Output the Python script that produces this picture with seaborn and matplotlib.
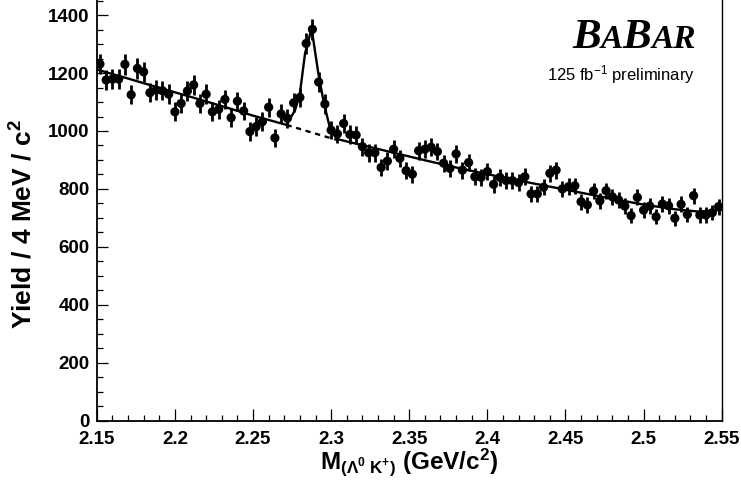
import numpy as np
import pandas as pd
import matplotlib
matplotlib.use("Agg")
import matplotlib.pyplot as plt
import seaborn as sns
from matplotlib.ticker import FixedLocator, MultipleLocator

# ---------------- data ----------------
bin_low = 2.15
bin_width = 0.004
yields = [1231, 1176, 1179, 1179, 1230, 1125, 1216, 1204, 1132, 1141,
          1139, 1127, 1066, 1095, 1138, 1159, 1095, 1127, 1066, 1075,
          1109, 1046, 1103, 1069, 998, 1015, 1032, 1082, 976, 1059,
          1044, 1097, 1116, 1302, 1351, 1169, 1093, 1003, 990, 1026,
          988, 986, 946, 925, 925, 874, 896, 937, 906, 863,
          851, 932, 937, 944, 929, 889, 871, 921, 865, 891,
          842, 840, 860, 816, 840, 829, 829, 822, 842, 783,
          783, 806, 854, 865, 800, 808, 811, 756, 745, 793,
          759, 794, 773, 762, 741, 708, 771, 727, 741, 704,
          748, 742, 699, 747, 712, 777, 710, 710, 718, 739]

# total fit curve (signal + background)
fit_mass = [2.15, 2.17, 2.19, 2.21, 2.23, 2.25, 2.2715, 2.2769, 2.280,
            2.2833, 2.2875, 2.2918, 2.2954, 2.2993, 2.304, 2.32, 2.34,
            2.36, 2.38, 2.40, 2.42, 2.44, 2.46, 2.48, 2.50, 2.52, 2.535, 2.55]
fit_yield = [1212, 1181, 1149, 1118, 1086, 1053, 1021, 1072, 1130,
             1268, 1354, 1199, 1095, 1009, 972, 951, 925,
             899, 874, 851, 829, 808, 787, 766, 746, 730, 722, 728]

# background only under the peak (dashed)
bkg_mass = [2.2715, 2.2855, 2.2993, 2.304]
bkg_yield = [1021, 998, 976, 969]

xticks = [2.15, 2.2, 2.25, 2.3, 2.35, 2.4, 2.45, 2.5, 2.55]
xtick_labels = ["2.15", "2.2", "2.25", "2.3", "2.35", "2.4", "2.45", "2.5", "2.55"]
yticks = [0, 200, 400, 600, 800, 1000, 1200, 1400]
ytick_labels = ["0", "200", "400", "600", "800", "1000", "1200", "1400"]

mass = bin_low + bin_width * (np.arange(len(yields)) + 0.5)
errors = np.sqrt(np.array(yields, dtype=float))

# ---------------- style ----------------
sns.set_theme(style="white")
plt.rcParams.update({
    "font.family": ["Liberation Sans", "DejaVu Sans"],
    "mathtext.fontset": "custom",
    "mathtext.rm": "Liberation Sans",
    "mathtext.bf": "Liberation Sans:bold",
    "mathtext.it": "Liberation Sans:italic",
    "axes.edgecolor": "black",
    "text.color": "black",
    "axes.labelcolor": "black",
    "xtick.color": "black",
    "ytick.color": "black",
})

W, H = 741, 488
fig = plt.figure(figsize=(W / 100, H / 100), dpi=100)
fig.patch.set_facecolor("white")
ax = fig.add_axes([96.8 / W, 1 - 420.8 / H, (721.7 - 96.8) / W, 420.8 / H])
ax.set_facecolor("white")

df = pd.DataFrame({"mass": mass, "yield": yields, "err": errors})
ax.errorbar(df["mass"], df["yield"], yerr=df["err"], fmt="none",
            ecolor="black", elinewidth=2.0, capsize=0, zorder=2)
sns.scatterplot(data=df, x="mass", y="yield", ax=ax, color="black",
                s=44, edgecolor="none", linewidth=0, zorder=3, legend=False)

fit_df = pd.DataFrame({"m": fit_mass, "y": fit_yield})
bkg_df = pd.DataFrame({"m": bkg_mass, "y": bkg_yield})
sns.lineplot(data=fit_df, x="m", y="y", ax=ax, color="black", lw=1.7,
             estimator=None, sort=False, zorder=4)
sns.lineplot(data=bkg_df, x="m", y="y", ax=ax, color="black", lw=1.7,
             estimator=None, sort=False, zorder=4, linestyle=(0, (2.2, 2.0)))

ax.set_xlim(2.15, 2.55)
ax.set_ylim(0, 1452)
ax.set_xlabel("")
ax.set_ylabel("")

ax.xaxis.set_major_locator(FixedLocator(xticks))
ax.set_xticklabels(xtick_labels)
ax.xaxis.set_minor_locator(MultipleLocator(0.01))
ax.yaxis.set_major_locator(FixedLocator(yticks))
ax.set_yticklabels(ytick_labels)
ax.yaxis.set_minor_locator(MultipleLocator(50))

ax.tick_params(which="both", direction="in", bottom=True, left=True,
               top=False, right=False, width=0.9, color="black")
ax.tick_params(axis="x", which="major", length=8.5, labelsize=13.5, pad=7)
ax.tick_params(axis="x", which="minor", length=4.5)
ax.tick_params(axis="y", which="major", length=8, labelsize=13.5, pad=5)
ax.tick_params(axis="y", which="minor", length=4.5)
for lab in ax.get_xticklabels() + ax.get_yticklabels():
    lab.set_fontweight("bold")

ax.spines["top"].set_visible(False)
ax.spines["left"].set_linewidth(1.3)
ax.spines["bottom"].set_linewidth(1.3)
ax.spines["right"].set_linewidth(1.0)

# axis titles
fig.text(409 / W, 1 - 469 / H,
         r"M$_{\mathbf{(\Lambda^{0}\ K^{+})}}$ (GeV/c$^{\mathbf{2}}$)",
         ha="center", va="baseline", fontsize=17.5, fontweight="bold")
fig.text(24 / W, 1 - 224 / H, r"Yield / 4 MeV / c$^{\mathbf{2}}$",
         ha="center", va="center", rotation=90, fontsize=19, fontweight="bold")

# BaBar logo
fig.canvas.draw()
renderer = fig.canvas.get_renderer()
x = 572 / W
yb = 1 - 48 / H
for s, size in [("B", 31), ("A", 24), ("B", 31), ("AR", 24)]:
    t = fig.text(x, yb, s, fontsize=size, family="Liberation Serif",
                 fontweight="bold", style="italic", ha="left", va="baseline",
                 color="black")
    bb = t.get_window_extent(renderer)
    x = bb.x1 / fig.bbox.width

fig.text(695 / W, 1 - 80 / H, r"125 fb$^{-1}$ preliminary", ha="right",
         va="baseline", fontsize=12, fontweight="normal", color="black")

fig.savefig("out.png", dpi=100, facecolor="white")
